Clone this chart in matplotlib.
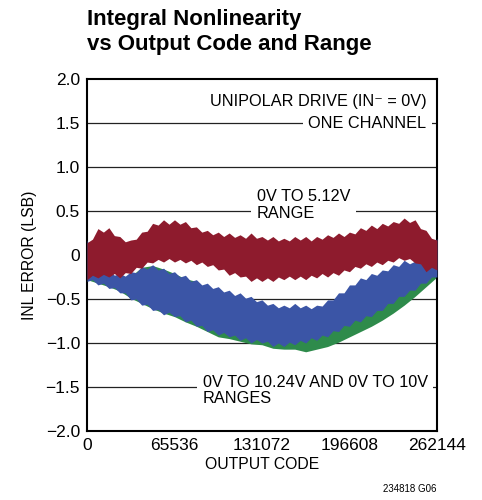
import matplotlib
matplotlib.use("Agg")
import matplotlib.pyplot as plt
import numpy as np

# output codes where the band edges were read (every 4096 codes)
codes = np.arange(0, 262145, 4096)
codes_g = np.arange(0, 262145, 8192)

# 0V to 5.12V range (red band), upper / lower edge
red_hi = [0.14, 0.18, 0.30, 0.26, 0.31, 0.22, 0.21, 0.15, 0.17, 0.18, 0.26, 0.27,
          0.36, 0.34, 0.40, 0.35, 0.40, 0.35, 0.38, 0.31, 0.32, 0.26, 0.28, 0.23,
          0.26, 0.21, 0.25, 0.20, 0.23, 0.19, 0.25, 0.19, 0.21, 0.17, 0.21, 0.16,
          0.19, 0.16, 0.21, 0.17, 0.21, 0.16, 0.21, 0.18, 0.23, 0.20, 0.25, 0.21,
          0.26, 0.24, 0.31, 0.28, 0.34, 0.30, 0.36, 0.33, 0.38, 0.36, 0.42, 0.37,
          0.40, 0.30, 0.28, 0.19, 0.17]
red_lo = [-0.28, -0.23, -0.26, -0.22, -0.25, -0.21, -0.26, -0.20, -0.21, -0.14,
          -0.15, -0.08, -0.09, -0.05, -0.08, -0.04, -0.08, -0.05, -0.09, -0.06,
          -0.11, -0.08, -0.13, -0.11, -0.17, -0.16, -0.23, -0.20, -0.25, -0.24,
          -0.30, -0.26, -0.30, -0.26, -0.30, -0.25, -0.28, -0.24, -0.28, -0.24,
          -0.28, -0.23, -0.26, -0.21, -0.25, -0.20, -0.23, -0.17, -0.19, -0.13,
          -0.15, -0.10, -0.13, -0.08, -0.11, -0.06, -0.08, -0.03, -0.06, -0.04,
          -0.09, -0.10, -0.19, -0.14, -0.17]

# 0V to 10.24V range (blue band)
blue_hi = [0.17, 0.00, -0.11, -0.18, -0.17, -0.23, -0.21, -0.24, -0.19, -0.20,
           -0.13, -0.16, -0.11, -0.17, -0.15, -0.21, -0.19, -0.25, -0.23, -0.30,
           -0.28, -0.34, -0.32, -0.38, -0.36, -0.42, -0.40, -0.46, -0.43, -0.49,
           -0.47, -0.53, -0.51, -0.57, -0.55, -0.60, -0.57, -0.60, -0.55, -0.60,
           -0.57, -0.61, -0.57, -0.58, -0.51, -0.51, -0.43, -0.43, -0.34, -0.34,
           -0.26, -0.28, -0.21, -0.23, -0.17, -0.18, -0.11, -0.13, -0.06, -0.10,
           -0.07, -0.04, 0.06, 0.08, 0.19]
blue_lo = [-0.30, -0.28, -0.34, -0.32, -0.38, -0.37, -0.43, -0.43, -0.51, -0.50,
           -0.57, -0.56, -0.63, -0.62, -0.68, -0.65, -0.70, -0.69, -0.76, -0.74,
           -0.81, -0.80, -0.87, -0.85, -0.91, -0.88, -0.93, -0.91, -0.97, -0.94,
           -1.00, -0.96, -1.00, -0.98, -1.04, -1.00, -1.04, -0.99, -1.02, -0.97,
           -1.00, -0.94, -0.97, -0.91, -0.93, -0.86, -0.87, -0.80, -0.81, -0.74,
           -0.76, -0.69, -0.70, -0.63, -0.63, -0.55, -0.55, -0.47, -0.47, -0.40,
           -0.40, -0.32, -0.32, -0.25, -0.25]

# 0V to 10V range (green band, mostly hidden under blue)
green_hi = [0.10, -0.20, -0.25, -0.29, -0.24, -0.14, -0.12, -0.16, -0.21, -0.27,
            -0.30, -0.40, -0.44, -0.48, -0.51, -0.55, -0.59, -0.63, -0.65, -0.63,
            -0.65, -0.65, -0.59, -0.51, -0.42, -0.34, -0.29, -0.25, -0.19, -0.14,
            -0.15, -0.02, 0.11]
green_lo = [-0.28, -0.32, -0.36, -0.41, -0.49, -0.55, -0.61, -0.66, -0.70, -0.76,
            -0.81, -0.87, -0.93, -0.95, -0.98, -1.01, -1.02, -1.06, -1.07, -1.07,
            -1.10, -1.07, -1.04, -0.99, -0.93, -0.87, -0.81, -0.74, -0.66, -0.57,
            -0.47, -0.36, -0.25]

xticks = [0, 65536, 131072, 196608, 262144]
yticks = [-2.0, -1.5, -1.0, -0.5, 0, 0.5, 1.0, 1.5, 2.0]
ytick_labels = ["\u22122.0", "\u22121.5", "\u22121.0", "\u22120.5", "0",
                "0.5", "1.0", "1.5", "2.0"]

RED = "#8e1b2d"
BLUE = "#3b55a6"
GREEN = "#2e8b4b"

plt.rcParams["font.family"] = ["Liberation Sans", "DejaVu Sans"]

fig = plt.figure(figsize=(4.82, 5.0), dpi=100)
ax = fig.add_axes([0.1805, 0.138, 0.726, 0.704])

ax.fill_between(codes_g, green_lo, green_hi, color=GREEN, lw=0, zorder=2)
ax.fill_between(codes, blue_lo, blue_hi, color=BLUE, lw=0, zorder=3)
ax.fill_between(codes, red_lo, red_hi, color=RED, lw=0, zorder=4)

ax.set_xlim(0, 262144)
ax.set_ylim(-2.0, 2.0)
ax.set_xticks(xticks)
ax.set_xticklabels([str(t) for t in xticks])
ax.set_yticks(yticks)
ax.set_yticklabels(ytick_labels)
ax.tick_params(length=0, labelsize=12.5, pad=5)
for y in yticks[1:-1]:
    ax.axhline(y, color="#222222", lw=0.9, zorder=1)
for s in ax.spines.values():
    s.set_linewidth(1.5)

ax.set_xlabel("OUTPUT CODE", fontsize=11.3, labelpad=3)
ax.set_ylabel("INL ERROR (LSB)", fontsize=11.3, labelpad=6)

box = dict(facecolor="white", edgecolor="none", pad=4)
ax.text(0.970, 0.936, "UNIPOLAR DRIVE (IN\u207b = 0V)", transform=ax.transAxes,
        ha="right", va="center", fontsize=11.7, zorder=5)
ax.text(0.970, 0.874, "ONE CHANNEL", transform=ax.transAxes, ha="right", va="center",
        fontsize=11.7, bbox=box, zorder=5)
ax.text(0.485, 0.642, "0V TO 5.12V\nRANGE", transform=ax.transAxes, ha="left", va="center",
        fontsize=11.7, linespacing=1.15, bbox=box, zorder=5)
ax.text(0.331, 0.115, "0V TO 10.24V AND 0V TO 10V\nRANGES", transform=ax.transAxes,
        ha="left", va="center", fontsize=11.7, linespacing=1.15, bbox=box, zorder=5)

fig.text(0.1805, 0.982, "Integral Nonlinearity\nvs Output Code and Range", ha="left", va="top",
         fontsize=16, fontweight="bold", linespacing=1.25)
fig.text(0.905, 0.013, "234818 G06", ha="right", va="bottom", fontsize=7)

fig.savefig("out.png", dpi=100)
